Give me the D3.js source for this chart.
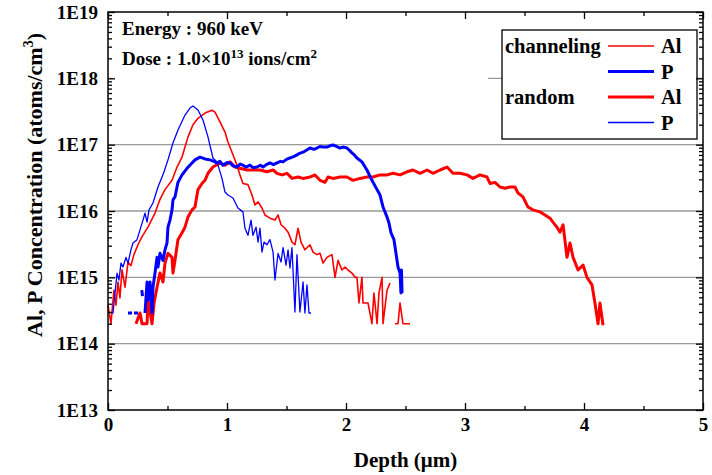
<!DOCTYPE html>
<html>
<head>
<meta charset="utf-8">
<script src="https://cdn.jsdelivr.net/npm/d3@7"></script>
<style>
    body { margin: 0; background: #fff; }
    text { font-family: "Liberation Serif", "Times New Roman", serif; font-weight: bold; fill: #000; }
</style>
</head>
<body>
<div id="chart"></div>
<script>
// depth (um), concentration (atoms/cm3) ; null = gap in the profile
var chAl = [[0.00,3.8e14],[0.025,2.0e14],[0.05,6.4e14],[0.067,3.8e14],[0.084,8.5e14],[0.10,4.9e14],[0.118,1.3e15],[0.143,7.1e14],[0.168,1.7e15],[0.193,1.5e15],[0.218,2.2e15],[0.252,3.1e15],[0.286,4.1e15],[0.336,5.7e15],[0.395,9.3e15],[0.437,1.5e16],[0.479,2.1e16],[0.538,2.9e16],[0.58,4.6e16],[0.622,6.5e16],[0.647,9.2e16],[0.672,1.3e17],[0.714,2.0e17],[0.756,2.5e17],[0.815,3.0e17],[0.874,3.3e17],[0.899,3.1e17],[0.941,2.2e17],[0.983,1.55e17],[1.008,1.1e17],[1.042,7.7e16],[1.084,4.9e16],[1.109,3.5e16],[1.134,2.6e16],[1.176,2.5e16],[1.21,1.74e16],[1.235,1.23e16],[1.261,1.37e16],[1.294,1.11e16],[1.319,8.7e15],[1.361,7.8e15],[1.403,7.3e15],[1.429,8.7e15],[1.454,6.2e15],[1.487,5.5e15],[1.513,4.8e15],[1.546,3.4e15],[1.571,3.1e15],[1.597,5.5e15],[1.622,3.4e15],[1.655,2.6e15],[1.697,3.1e15],[1.723,2.4e15],[1.756,2.2e15],[1.782,2.3e15],[1.807,1.64e15],[1.84,2.0e15],[1.882,2.2e15],[1.908,1.0e15],[1.933,1.8e15],[1.966,1.29e15],[1.992,1.43e15],[2.017,1.29e15],[2.05,1.16e15],[2.076,1.0e15],[2.092,1.0e15],[2.109,4.1e14],[2.134,1.0e15],[2.143,4.1e14],[2.185,4.1e14],[2.218,2.0e14],[2.235,5.8e14],[2.261,2.0e14],[2.277,5.8e14],[2.303,1.0e15],[2.311,2.0e14],[2.345,6.4e14],[2.37,8.2e14],null,[2.412,2.0e14],[2.437,2.0e14],[2.454,4.1e14],[2.479,2.0e14],[2.538,2.0e14]];

var chP = [[0.168,2.9e14],[0.202,2.9e14],null,[0.218,2.9e14],[0.252,2.9e14],null,[0.284,6.4e14],[0.29,5.2e14],null,[0.311,2.9e14],[0.328,8.5e14],[0.336,4.5e14],[0.353,8.5e14],[0.37,2.9e14],[0.378,7.1e14],[0.395,1.16e15],[0.412,2.0e15],[0.42,1.43e15],[0.437,2.3e15],[0.462,1.8e15],[0.479,2.6e15],[0.496,3.3e15],[0.504,5.7e15],[0.521,7.3e15],[0.538,1.04e16],[0.546,1.47e16],[0.563,1.63e16],[0.58,2.3e16],[0.588,2.7e16],[0.622,3.5e16],[0.664,4.4e16],[0.706,5.3e16],[0.731,5.9e16],[0.773,6.5e16],[0.815,6.1e16],[0.857,5.9e16],[0.89,5.6e16],[0.916,5.3e16],[0.94,5.6e16],[0.966,4.9e16],[1.0,5.4e16],[1.025,5.3e16],[1.05,4.8e16],[1.084,4.6e16],[1.11,5.1e16],[1.134,4.9e16],[1.16,4.6e16],[1.193,4.9e16],[1.22,4.5e16],[1.252,4.6e16],[1.28,4.9e16],[1.303,4.6e16],[1.33,5.0e16],[1.361,5.3e16],[1.39,5.0e16],[1.42,5.3e16],[1.45,5.6e16],[1.471,5.5e16],[1.50,6.0e16],[1.529,6.3e16],[1.56,6.6e16],[1.588,7.0e16],[1.61,7.4e16],[1.639,7.7e16],[1.67,8.3e16],[1.697,8.9e16],[1.73,8.5e16],[1.756,8.9e16],[1.78,9.4e16],[1.807,9.2e16],[1.84,9.2e16],[1.87,9.7e16],[1.891,9.9e16],[1.92,9.4e16],[1.95,8.9e16],[1.98,9.2e16],[2.008,8.9e16],[2.03,8.2e16],[2.05,7.5e16],[2.07,7.0e16],[2.092,6.3e16],[2.134,5.5e16],[2.176,4.15e16],[2.218,2.9e16],[2.261,2.1e16],[2.286,1.74e16],[2.311,1.15e16],[2.345,8.1e15],[2.361,6.6e15],[2.378,4.7e15],[2.403,3.7e15],[2.42,2.3e15],[2.437,1.43e15],[2.454,1.16e15],[2.462,5.8e14],[2.466,1.29e15],[2.471,5.8e14]];

var rdAl = [[0.235,2.0e14],[0.269,2.9e14],[0.286,2.0e14],[0.328,2.0e14],[0.336,4.5e14],[0.37,2.0e14],[0.387,4.1e14],[0.412,7.1e14],[0.437,1.16e15],[0.462,8.5e14],[0.479,1.64e15],[0.504,2.3e15],[0.538,2.0e15],[0.546,1.16e15],[0.563,1.8e15],[0.588,3.7e15],[0.622,4.7e15],[0.647,5.7e15],[0.672,8.1e15],[0.706,1.04e16],[0.731,1.15e16],[0.756,2.1e16],[0.79,2.6e16],[0.815,2.9e16],[0.84,3.7e16],[0.882,4.6e16],[0.941,5.3e16],[0.983,4.9e16],[1.025,5.5e16],[1.067,4.6e16],[1.109,4.4e16],[1.168,4.15e16],[1.218,4.15e16],[1.277,4.15e16],[1.336,3.9e16],[1.387,4.15e16],[1.42,3.7e16],[1.462,3.5e16],[1.504,3.7e16],[1.546,3.1e16],[1.597,3.25e16],[1.639,3.1e16],[1.697,3.25e16],[1.739,3.5e16],[1.782,2.9e16],[1.824,2.7e16],[1.849,3.25e16],[1.891,3.1e16],[1.95,3.25e16],[2.008,3.25e16],[2.059,2.9e16],[2.118,3.1e16],[2.176,3.25e16],[2.227,3.25e16],[2.286,3.5e16],[2.345,3.5e16],[2.395,3.7e16],[2.454,3.5e16],[2.513,3.9e16],[2.563,4.15e16],[2.622,3.7e16],[2.681,4.15e16],[2.731,3.7e16],[2.79,4.15e16],[2.849,4.6e16],[2.899,3.7e16],[2.958,3.7e16],[3.017,3.5e16],[3.067,3.1e16],[3.126,3.5e16],[3.185,3.25e16],[3.21,2.6e16],[3.252,2.7e16],[3.294,2.3e16],[3.336,2.2e16],[3.378,2.3e16],[3.42,2.3e16],[3.445,1.87e16],[3.487,1.63e16],[3.529,1.15e16],[3.571,1.04e16],[3.63,9.7e15],[3.672,8.7e15],[3.714,7.8e15],[3.739,6.8e15],[3.773,5.7e15],[3.798,4.8e15],[3.824,6.2e15],[3.857,2.0e15],[3.882,3.3e15],[3.908,2.0e15],[3.95,1.29e15],[3.992,1.53e15],[4.025,1.0e15],[4.067,7.7e14],[4.092,4.1e14],[4.118,2.0e14],[4.134,4.1e14],[4.16,1.9e14]];

var rdP = [[0.017,3.0e14],[0.042,2.9e14],[0.076,1.16e15],[0.092,9.1e14],[0.109,1.64e15],[0.126,1.43e15],[0.151,2.0e15],[0.168,1.64e15],[0.193,2.6e15],[0.21,3.3e15],[0.244,3.7e15],[0.269,5.2e15],[0.294,7.3e15],[0.311,9.3e15],[0.328,6.8e15],[0.345,1.04e16],[0.378,1.32e16],[0.42,2.3e16],[0.454,3.25e16],[0.471,3.9e16],[0.504,5.9e16],[0.546,1.06e17],[0.588,1.66e17],[0.647,2.8e17],[0.689,3.57e17],[0.714,3.83e17],[0.756,3.33e17],[0.798,2.35e17],[0.84,1.31e17],[0.882,6.3e16],[0.916,5.5e16],[0.958,3.1e16],[0.983,1.93e16],[1.008,1.74e16],[1.05,1.57e16],[1.092,1.11e16],[1.134,9.7e15],[1.151,5.5e15],[1.176,4.3e15],[1.202,7.3e15],[1.218,4.3e15],[1.244,5.7e15],[1.261,3.4e15],[1.277,5.5e15],[1.294,2.4e15],[1.311,3.4e15],[1.336,3.1e15],[1.361,3.7e15],[1.387,2.4e15],[1.403,9.1e14],[1.429,2.3e15],[1.454,1.7e15],[1.471,2.8e15],[1.496,1.53e15],[1.513,2.6e15],[1.529,1.38e15],[1.546,2.8e15],[1.571,3.0e14],[1.588,2.2e15],[1.613,3.0e14],[1.639,8.5e14],[1.655,2.9e14],[1.672,7.7e14],[1.689,2.9e14],[1.706,2.9e14]];

var xTicks = [0, 1, 2, 3, 4, 5];
var xMinor = [0.5, 1.5, 2.5, 3.5, 4.5];
var yDecades = [13, 14, 15, 16, 17, 18, 19];
var gridDecades = [14, 15, 16, 17, 18];

var legendRows = [
    {group: "channeling", name: "Al", color: "#ff0000", width: 1.6},
    {group: "", name: "P", color: "#0000ff", width: 3},
    {group: "random", name: "Al", color: "#ff0000", width: 3},
    {group: "", name: "P", color: "#0000ff", width: 1.3}
];

var width = 712, height = 475;
// plot box (note: "top" is reserved on window, so prefixed names)
var pLeft = 108, pRight = 703, pTop = 12, pBottom = 410;

var svg = d3.select("#chart").append("svg")
    .attr("width", width)
    .attr("height", height);

var x = d3.scaleLinear().domain([0, 5]).range([pLeft, pRight]);
var y = d3.scaleLog().domain([1e13, 1e19]).range([pBottom, pTop]);

// grid lines
svg.append("g").selectAll("line")
    .data(gridDecades)
    .enter().append("line")
    .attr("x1", pLeft).attr("x2", pRight)
    .attr("y1", function(d) { return y(Math.pow(10, d)); })
    .attr("y2", function(d) { return y(Math.pow(10, d)); })
    .style("stroke", "#9a9a9a")
    .style("stroke-width", 1.3);

// white background of the annotation text box
svg.append("rect")
    .attr("x", pLeft + 4).attr("y", 18)
    .attr("width", 488 - pLeft - 4).attr("height", 64)
    .style("fill", "#fff");

svg.append("text").attr("x", 122).attr("y", 35)
    .style("font-size", "19px")
    .text("Energy : 960 keV");

var dose = svg.append("text").attr("x", 122).attr("y", 65)
    .style("font-size", "19px");
dose.append("tspan").text("Dose : 1.0\u00d710");
dose.append("tspan").attr("dy", -7).style("font-size", "13px").text("13");
dose.append("tspan").attr("dy", 7).text(" ions/cm");
dose.append("tspan").attr("dy", -7).style("font-size", "13px").text("2");

// curves
var line = d3.line()
    .defined(function(d) { return d != null; })
    .x(function(d) { return x(d[0]); })
    .y(function(d) { return y(d[1]); });

var series = [
    {data: rdAl, color: "#ff0000", width: 3},
    {data: chAl, color: "#ff0000", width: 1.6},
    {data: chP, color: "#0000ff", width: 3},
    {data: rdP, color: "#0000ff", width: 1.3}
];

svg.append("g").selectAll("path")
    .data(series)
    .enter().append("path")
    .attr("d", function(d) { return line(d.data); })
    .style("fill", "none")
    .style("stroke", function(d) { return d.color; })
    .style("stroke-width", function(d) { return d.width; })
    .style("stroke-linejoin", "round");

// legend
var lg = svg.append("g");
lg.append("rect")
    .attr("x", 502).attr("y", 30)
    .attr("width", 195).attr("height", 109)
    .style("fill", "#fff")
    .style("stroke", "#000")
    .style("stroke-width", 1.3);

var rows = lg.selectAll(".row")
    .data(legendRows)
    .enter().append("g")
    .attr("class", "row")
    .attr("transform", function(d, i) { return "translate(0," + (46 + i * 25.5) + ")"; });

rows.append("text").attr("x", 505).attr("y", 7)
    .style("font-size", "20.5px")
    .text(function(d) { return d.group; });
rows.append("line")
    .attr("x1", 608).attr("x2", 654)
    .style("stroke", function(d) { return d.color; })
    .style("stroke-width", function(d) { return d.width; });
rows.append("text").attr("x", 661).attr("y", 7)
    .style("font-size", "20.5px")
    .text(function(d) { return d.name; });

// axes
var yMinor = [];
yDecades.slice(0, -1).forEach(function(e) {
    for (var k = 2; k <= 9; k++) yMinor.push(k * Math.pow(10, e));
});
var yMajor = yDecades.map(function(e) { return Math.pow(10, e); });

function styleAxis(g) {
    g.select(".domain").remove();
    g.selectAll(".tick line").style("stroke", "#000").style("stroke-width", 1.3);
    g.selectAll("text").style("font-family", "Liberation Serif").style("font-weight", "bold").style("font-size", "19px");
}

svg.append("g").attr("transform", "translate(" + pLeft + ",0)")
    .call(d3.axisLeft(y).tickValues(yMajor).tickSize(-7).tickPadding(10)
        .tickFormat(function(d) { return "1E" + Math.round(Math.log10(d)); }))
    .call(styleAxis);
svg.append("g").attr("transform", "translate(" + pLeft + ",0)")
    .call(d3.axisLeft(y).tickValues(yMinor).tickSize(-4).tickFormat(""))
    .call(styleAxis);
svg.append("g").attr("transform", "translate(" + pRight + ",0)")
    .call(d3.axisRight(y).tickValues(yMajor).tickSize(-7).tickFormat(""))
    .call(styleAxis);
svg.append("g").attr("transform", "translate(" + pRight + ",0)")
    .call(d3.axisRight(y).tickValues(yMinor).tickSize(-4).tickFormat(""))
    .call(styleAxis);

svg.append("g").attr("transform", "translate(0," + pBottom + ")")
    .call(d3.axisBottom(x).tickValues(xTicks).tickSize(-7).tickPadding(8).tickFormat(d3.format("d")))
    .call(styleAxis);
svg.append("g").attr("transform", "translate(0," + pBottom + ")")
    .call(d3.axisBottom(x).tickValues(xMinor).tickSize(-4).tickFormat(""))
    .call(styleAxis);
svg.append("g").attr("transform", "translate(0," + pTop + ")")
    .call(d3.axisTop(x).tickValues(xTicks).tickSize(-7).tickFormat(""))
    .call(styleAxis);
svg.append("g").attr("transform", "translate(0," + pTop + ")")
    .call(d3.axisTop(x).tickValues(xMinor).tickSize(-4).tickFormat(""))
    .call(styleAxis);

// frame
svg.append("rect")
    .attr("x", pLeft).attr("y", pTop)
    .attr("width", pRight - pLeft).attr("height", pBottom - pTop)
    .style("fill", "none")
    .style("stroke", "#000")
    .style("stroke-width", 1.5);

// axis titles
svg.append("text")
    .attr("x", (pLeft + pRight) / 2).attr("y", 467)
    .style("text-anchor", "middle")
    .style("font-size", "21px")
    .text("Depth (\u03bcm)");

var yt = svg.append("text")
    .attr("transform", "translate(42,185) rotate(-90)")
    .style("text-anchor", "middle")
    .style("font-size", "22px");
yt.append("tspan").text("Al, P Concentration (atoms/cm");
yt.append("tspan").attr("dy", -9).style("font-size", "14px").text("3");
yt.append("tspan").attr("dy", 9).text(")");
</script>
</body>
</html>
